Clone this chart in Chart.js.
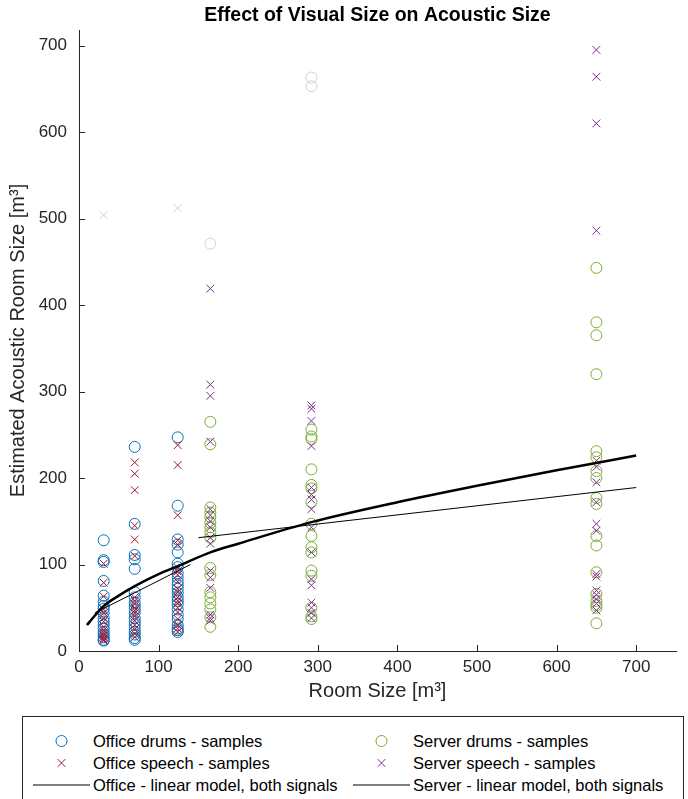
<!DOCTYPE html>
<html>
<head>
<meta charset="utf-8">
<script src="https://cdn.jsdelivr.net/npm/chart.js@4.4.0/dist/chart.umd.min.js"></script>
<style>
  body { margin: 0; width: 688px; height: 799px; overflow: hidden; background: #fff; font-family: "Liberation Sans", Arial, sans-serif; }
  #wrap { position: absolute; left: 0; top: 0; width: 688px; height: 712px; }
  #legend {
    position: absolute; left: 22px; top: 716px; width: 662px; height: 100px;
    border: 1px solid #262626; box-sizing: border-box;
    padding: 13px 0 0 10px;
    display: grid; grid-template-rows: repeat(3, 22px); grid-auto-flow: column;
    grid-template-columns: 320px 1fr;
  }
  .item { display: flex; align-items: center; font-size: 16.5px; color: #000; white-space: nowrap; }
  .item svg { width: 57px; height: 22px; margin-right: 3px; flex: none; }
</style>
</head>
<body>
<div id="wrap"><canvas id="chart"></canvas></div>
<div id="legend"></div>
<script>
// room sizes (x) for each group of measurements
const officeRooms = [31, 70, 124];
const serverRooms = [165, 292, 650];

// estimated acoustic room size, one list per room
const officeDrums = [
  [128, 105, 103, 81, 64, 57, 52, 49, 44, 38, 34, 30, 26, 22, 19, 16, 13, 12],
  [236, 147, 111, 106, 95, 68, 62, 56, 52, 48, 44, 38, 34, 30, 26, 22, 19, 15, 13],
  [247, 168, 129, 123, 114, 101, 97, 90, 85, 80, 76, 72, 67, 62, 58, 54, 48, 42, 37, 30, 26, 24, 22]
];
const officeSpeech = [
  [101, 79, 63, 48, 44, 38, 34, 28, 24, 21, 19, 17, 15, 13, 12],
  [218, 205, 186, 145, 129, 110, 62, 58, 54, 50, 47, 44, 40, 35, 30, 25, 20, 16],
  [238, 215, 157, 128, 123, 96, 92, 88, 80, 72, 68, 62, 58, 55, 50, 45, 37, 30, 26, 22]
];
const serverDrums = [
  [265, 239, 166, 160, 155, 148, 143, 137, 131, 96, 88, 68, 62, 55, 48, 39, 28],
  [256, 248, 245, 210, 192, 188, 172, 147, 133, 120, 114, 93, 87, 50, 40, 37],
  [443, 380, 365, 320, 231, 224, 208, 200, 177, 170, 133, 122, 91, 66, 58, 53, 50, 32]
];
const serverSpeech = [
  [419, 308, 295, 242, 164, 157, 150, 143, 131, 124, 93, 85, 73, 42, 38, 35],
  [284, 280, 266, 237, 189, 181, 175, 164, 143, 114, 83, 76, 56, 50, 44, 38],
  [695, 664, 610, 486, 220, 213, 195, 172, 147, 139, 89, 86, 70, 65, 60, 55, 47]
];

// excluded samples (grey)
const outlierSpeechRooms = [31, 124];
const outlierSpeechValues = [504, 512];
const outlierDrumsRooms = [165, 292, 292];
const outlierDrumsValues = [471, 663, 653];

// fitted models
const officeModelX = [20, 140];
const officeModelY = [44, 100];
const serverModelX = [150, 700];
const serverModelY = [131, 189];
const powerModelX = [10, 20, 31, 50, 70, 100, 124, 165, 200, 292, 400, 500, 600, 700];
const powerModelY = [30, 41, 52, 64, 75, 89, 98, 114, 124, 149, 172, 191, 209, 226];

const xTicks = [0, 100, 200, 300, 400, 500, 600, 700];
const yTicks = [0, 100, 200, 300, 400, 500, 600, 700];

const FONT = '"Liberation Sans", Arial, Helvetica, sans-serif';
const AX = '#262626';

function points(rooms, lists) {
  return rooms.flatMap((r, i) => lists[i].map(v => ({x: r, y: v})));
}
function pairs(xs, ys) {
  return xs.map((x, i) => ({x: x, y: ys[i]}));
}

function markers(label, data, color, style, inLegend) {
  return {
    label: label, data: data, legend: inLegend,
    pointStyle: style, pointRadius: 5.5, pointBorderWidth: 1,
    borderColor: color, backgroundColor: 'rgba(0,0,0,0)',
    pointHoverRadius: 5.5
  };
}
function line(label, data, width, inLegend) {
  return {
    label: label, data: data, legend: inLegend, showLine: true,
    borderColor: '#000', borderWidth: width, pointRadius: 0,
    cubicInterpolationMode: 'monotone'
  };
}

const officeDrumsSet = markers('Office drums - samples', points(officeRooms, officeDrums), '#0072BD', 'circle', true);
const officeSpeechSet = markers('Office speech - samples', points(officeRooms, officeSpeech), '#A2142F', 'crossRot', true);
const serverDrumsSet = markers('Server drums - samples', points(serverRooms, serverDrums), '#77AC30', 'circle', true);
const serverSpeechSet = markers('Server speech - samples', points(serverRooms, serverSpeech), '#7E2F8E', 'crossRot', true);
const officeLine = line('Office - linear model, both signals', pairs(officeModelX, officeModelY), 1, true);
const serverLine = line('Server - linear model, both signals', pairs(serverModelX, serverModelY), 1, true);

// first dataset is drawn on top
const datasets = [
  line('power model', pairs(powerModelX, powerModelY), 2.5, false),
  officeLine,
  serverLine,
  serverSpeechSet,
  serverDrumsSet,
  officeSpeechSet,
  officeDrumsSet,
  markers('excluded speech', pairs(outlierSpeechRooms, outlierSpeechValues), '#cfcfcf', 'crossRot', false),
  markers('excluded drums', pairs(outlierDrumsRooms, outlierDrumsValues), '#cfcfcf', 'circle', false)
];

const inwardTicks = {
  id: 'inwardTicks',
  afterDraw(chart) {
    const {ctx, chartArea} = chart;
    const xs = chart.scales.x, ys = chart.scales.y;
    ctx.save();
    ctx.strokeStyle = AX;
    ctx.lineWidth = 1;
    ctx.beginPath();
    xTicks.forEach(v => {
      const px = Math.round(xs.getPixelForValue(v)) + 0.5;
      ctx.moveTo(px, chartArea.bottom);
      ctx.lineTo(px, chartArea.bottom - 6);
    });
    yTicks.forEach(v => {
      const py = Math.round(ys.getPixelForValue(v)) + 0.5;
      ctx.moveTo(chartArea.left, py);
      ctx.lineTo(chartArea.left + 6, py);
    });
    ctx.stroke();
    ctx.restore();
  }
};

const chart = new Chart(document.getElementById('chart'), {
  type: 'scatter',
  data: {datasets: datasets},
  options: {
    responsive: true,
    maintainAspectRatio: false,
    animation: false,
    layout: {padding: {left: 0, right: 12, top: 0, bottom: 0}},
    plugins: {
      legend: {display: false},
      tooltip: {enabled: false},
      title: {
        display: true,
        fullSize: false,
        text: 'Effect of Visual Size on Acoustic Size',
        color: '#000',
        font: {family: FONT, size: 19.5, weight: 'bold'},
        padding: {top: 4, bottom: 2.6}
      }
    },
    scales: {
      x: {
        type: 'linear', min: 0, max: 750,
        afterBuildTicks: s => { s.ticks = xTicks.map(v => ({value: v})); },
        afterFit: s => { s.height = 61; },
        grid: {display: true, drawOnChartArea: false, drawTicks: false},
        border: {display: true, color: AX, width: 1},
        ticks: {color: AX, font: {family: FONT, size: 17}, padding: 6, maxRotation: 0},
        title: {display: true, text: 'Room Size [m³]', color: AX,
          font: {family: FONT, size: 20}, padding: {top: 0, bottom: 9}}
      },
      y: {
        type: 'linear', min: 0, max: 718,
        afterBuildTicks: s => { s.ticks = yTicks.map(v => ({value: v})); },
        afterFit: s => { s.width = 79; },
        grid: {display: true, drawOnChartArea: false, drawTicks: false},
        border: {display: true, color: AX, width: 1},
        ticks: {color: AX, font: {family: FONT, size: 17}, padding: 12},
        title: {display: true, text: 'Estimated Acoustic Room Size [m³]', color: AX,
          font: {family: FONT, size: 20}, padding: {top: 6, bottom: 0}}
      }
    }
  },
  plugins: [inwardTicks]
});

// legend built from the chart's own datasets
function symbol(ds) {
  const c = ds.borderColor;
  if (ds.showLine) return '<svg><line x1="0" y1="11" x2="57" y2="11" stroke="' + c + '" stroke-width="1"/></svg>';
  if (ds.pointStyle === 'circle') return '<svg><circle cx="28.5" cy="11" r="5.5" fill="none" stroke="' + c + '" stroke-width="1"/></svg>';
  return '<svg><path d="M24.6 7.1 L32.4 14.9 M32.4 7.1 L24.6 14.9" stroke="' + c + '" stroke-width="1"/></svg>';
}
const legendOrder = [officeDrumsSet, officeSpeechSet, officeLine, serverDrumsSet, serverSpeechSet, serverLine];
document.getElementById('legend').innerHTML = legendOrder
  .filter(ds => ds.legend)
  .map(ds => '<div class="item">' + symbol(ds) + '<span>' + ds.label + '</span></div>')
  .join('');
</script>
</body>
</html>
